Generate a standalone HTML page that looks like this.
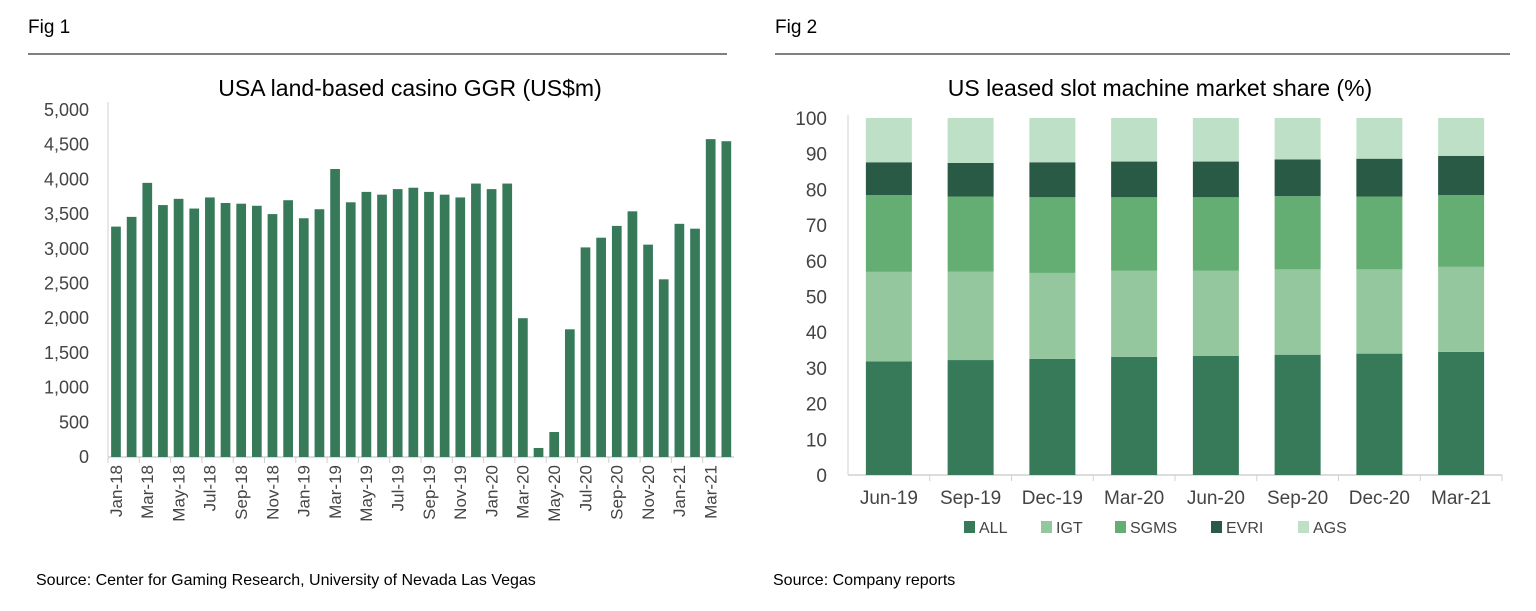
<!DOCTYPE html>
<html><head><meta charset="utf-8"><style>
body{margin:0;background:#fff;width:1536px;height:606px;overflow:hidden;font-family:"Liberation Sans",Arial,sans-serif;}
svg text{font-family:"Liberation Sans",Arial,sans-serif;}
</style></head><body>
<svg id="s" width="1536" height="606">
<text x="28" y="33" font-size="19" fill="#000">Fig 1</text>
<line x1="28" y1="54" x2="727" y2="54" stroke="#000" stroke-width="1"/>
<text x="410" y="96" font-size="23" text-anchor="middle" fill="#000">USA land-based casino GGR (US$m)</text>
<text x="36" y="585" font-size="16" fill="#000">Source: Center for Gaming Research, University of Nevada Las Vegas</text>
<text x="775" y="33" font-size="19" fill="#000">Fig 2</text>
<line x1="775" y1="54" x2="1510" y2="54" stroke="#000" stroke-width="1"/>
<text x="1160" y="96" font-size="23" text-anchor="middle" fill="#000">US leased slot machine market share (%)</text>
<text x="773" y="585" font-size="16" fill="#000">Source: Company reports</text>
<g id="c1"></g>
<g id="c2"></g>
</svg>
<script>
const months=["Jan-18","Feb-18","Mar-18","Apr-18","May-18","Jun-18","Jul-18","Aug-18","Sep-18","Oct-18","Nov-18","Dec-18","Jan-19","Feb-19","Mar-19","Apr-19","May-19","Jun-19","Jul-19","Aug-19","Sep-19","Oct-19","Nov-19","Dec-19","Jan-20","Feb-20","Mar-20","Apr-20","May-20","Jun-20","Jul-20","Aug-20","Sep-20","Oct-20","Nov-20","Dec-20","Jan-21","Feb-21","Mar-21","Apr-21"];
const ggr=[3320,3460,3950,3630,3720,3580,3740,3660,3650,3620,3500,3700,3440,3570,4150,3670,3820,3780,3860,3880,3820,3780,3740,3940,3860,3940,2000,130,360,1840,3020,3160,3330,3540,3060,2560,3360,3290,4580,4550];
const ggrTicks=[0,500,1000,1500,2000,2500,3000,3500,4000,4500,5000];
const quarters=["Jun-19","Sep-19","Dec-19","Mar-20","Jun-20","Sep-20","Dec-20","Mar-21"];
const shareALL=[31.8,32.2,32.5,33.1,33.4,33.7,34.0,34.5];
const shareIGT=[25.1,24.8,24.1,24.1,23.8,23.9,23.6,23.8];
const shareSGMS=[21.5,21.0,21.2,20.6,20.6,20.5,20.4,20.1];
const shareEVRI=[9.2,9.4,9.8,10.0,10.0,10.3,10.6,11.0];
const shareAGS=[12.4,12.6,12.4,12.2,12.2,11.6,11.4,10.6];
const shareTicks=[0,10,20,30,40,50,60,70,80,90,100];
const NS="http://www.w3.org/2000/svg";
function mk(p,t,a){const e=document.createElementNS(NS,t);for(const k in a)e.setAttribute(k,a[k]);p.appendChild(e);return e;}
const c1=document.getElementById('c1');
const x0=108,x1=734,yT=110,yB=457,vMax=5000;
const y1=v=>yB-(v/vMax)*(yB-yT);
const bw1=(x1-x0)/months.length;
ggrTicks.forEach(t=>{const e=mk(c1,'text',{x:89,y:y1(t)+6,'font-size':18,'text-anchor':'end',fill:'#444'});e.textContent=t.toLocaleString('en-US');

});
const ax=mk(c1,'line',{x1:x0,y1:yT-8,x2:x0,y2:yB,stroke:'#d0d0d0','stroke-width':1});


const bx=mk(c1,'line',{x1:x0,y1:yB,x2:x1,y2:yB,stroke:'#d0d0d0','stroke-width':1.5});


ggr.forEach((v,i)=>{const r=mk(c1,'rect',{x:x0+i*bw1+bw1*0.2,y:y1(v),width:bw1*0.62,height:yB-y1(v),fill:'#367a5a'});

});
months.forEach((m,i)=>{if(i%2)return;const x=x0+i*bw1;
mk(c1,'line',{x1:x,y1:yB,x2:x,y2:yB+6,stroke:'#d0d0d0'});
const cx=x+bw1/2+6;const e=mk(c1,'text',{x:cx,y:yB+8,'font-size':17,'text-anchor':'end',fill:'#444',transform:`rotate(-90 ${cx} ${yB+8})`});e.textContent=m;

});
const c2=document.getElementById('c2');
const X0=848,X1=1502,YT=118,YB=475;
const y2=v=>YB-(v/100)*(YB-YT);
const bw2=(X1-X0)/quarters.length;
shareTicks.forEach(t=>{const e=mk(c2,'text',{x:827,y:y2(t)+7,'font-size':19,'text-anchor':'end',fill:'#444'});e.textContent=t;

});
const ay2=mk(c2,'line',{x1:X0,y1:YT-3,x2:X0,y2:YB,stroke:'#d0d0d0'});


const ax2=mk(c2,'line',{x1:X0,y1:YB,x2:X1,y2:YB,stroke:'#d0d0d0','stroke-width':1.5});


const series=[["ALL",shareALL,"#367a5a"],["IGT",shareIGT,"#94c79d"],["SGMS",shareSGMS,"#64ad73"],["EVRI",shareEVRI,"#285a45"],["AGS",shareAGS,"#bde0c6"]];
quarters.forEach((q,i)=>{let acc=0;const bx0=X0+i*bw2+(bw2-46)/2;
series.forEach(([n,arr,col])=>{const v=arr[i];const r=mk(c2,'rect',{x:bx0,y:y2(acc+v),width:46,height:y2(acc)-y2(acc+v),fill:col});

acc+=v;});
mk(c2,'line',{x1:X0+(i+1)*bw2,y1:YB,x2:X0+(i+1)*bw2,y2:YB+6,stroke:'#d0d0d0'});
const e=mk(c2,'text',{x:X0+i*bw2+bw2/2,y:YB+29,'font-size':19,'text-anchor':'middle',fill:'#444'});e.textContent=q;

});
const lx=[964,1041,1115,1211,1298];
series.forEach(([n,arr,col],k)=>{const g=mk(c2,'g',{});


mk(g,'rect',{x:lx[k],y:521,width:11,height:12,fill:col});
const t=mk(g,'text',{x:lx[k]+15,y:533,'font-size':16,fill:'#444'});t.textContent=n;});
</script>
</body></html>
